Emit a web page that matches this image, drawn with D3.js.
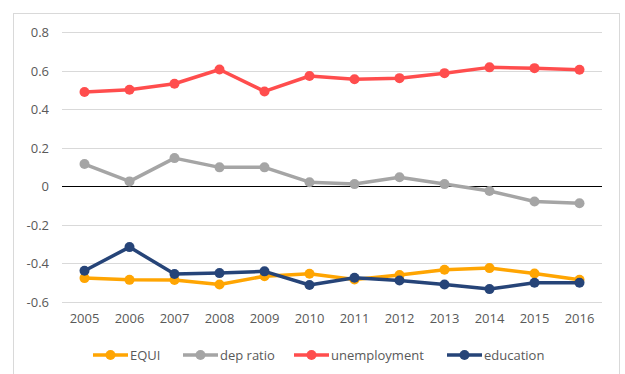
<!DOCTYPE html>
<html>
<head>
<meta charset="utf-8">
<script src="https://cdn.jsdelivr.net/npm/d3@7"></script>
<style>
  html, body { margin: 0; padding: 0; background: #fff; }
  svg { display: block; }
  text { font-family: "Open Sans", "Liberation Sans", sans-serif; fill: #595959; }
</style>
</head>
<body>
<svg id="chart" width="625" height="374"></svg>
<script>
const years = ["2005","2006","2007","2008","2009","2010","2011","2012","2013","2014","2015","2016"];
const equi = [-0.476,-0.485,-0.486,-0.509,-0.466,-0.453,-0.483,-0.460,-0.433,-0.424,-0.452,-0.485];
const depRatio = [0.116,0.026,0.147,0.099,0.099,0.022,0.012,0.048,0.012,-0.024,-0.078,-0.087];
const unemployment = [0.490,0.502,0.533,0.607,0.493,0.573,0.556,0.562,0.588,0.618,0.614,0.606];
const education = [-0.438,-0.315,-0.455,-0.450,-0.441,-0.512,-0.474,-0.488,-0.509,-0.533,-0.500,-0.500];
const yTicks = [0.8,0.6,0.4,0.2,0,-0.2,-0.4,-0.6];
const seriesNames = ["EQUI","dep ratio","unemployment","education"];
const seriesColors = ["#FFA502","#A5A5A5","#FF4D4D","#264478"];
const seriesValues = [equi, depRatio, unemployment, education];

const svg = d3.select("#chart");

// chart border
svg.append("rect").attr("x",13.5).attr("y",13.5).attr("width",606).attr("height",370)
  .attr("fill","none").attr("stroke","#d9d9d9").attr("stroke-width",1);

const x = d3.scaleBand().domain(years).range([62,602]);
const y = d3.scaleLinear().domain([-0.6,0.8]).range([302,32.3]);

// gridlines
svg.append("g").selectAll("line").data(yTicks.filter(d=>d!==0)).join("line")
  .attr("x1",62).attr("x2",602)
  .attr("y1",d=>Math.round(y(d))+0.5).attr("y2",d=>Math.round(y(d))+0.5)
  .attr("stroke","#d9d9d9").attr("stroke-width",1);

// y tick labels
const yAxis = d3.axisLeft(y).tickValues(yTicks).tickSize(0).tickPadding(0)
  .tickFormat(d => d === 0 ? "0" : d3.format(".1f")(d).replace("−","-"));
const gy = svg.append("g").attr("transform","translate(49,0)").call(yAxis);
gy.select(".domain").remove();
gy.selectAll("text").attr("font-size","13px").attr("fill","#595959")
  .style("font-family","'Open Sans', sans-serif");

// x tick labels
const xAxis = d3.axisBottom(x).tickSize(0).tickPadding(0);
const gx = svg.append("g").attr("transform","translate(0,314)").call(xAxis);
gx.select(".domain").remove();
gx.selectAll("text").attr("font-size","13px").attr("fill","#595959")
  .style("font-family","'Open Sans', sans-serif");

// zero line
svg.append("line").attr("x1",62).attr("x2",602)
  .attr("y1",Math.round(y(0))+0.5).attr("y2",Math.round(y(0))+0.5)
  .attr("stroke","#000").attr("stroke-width",1);

// series
const line = d3.line().x((d,i)=>x(years[i])+x.bandwidth()/2).y(d=>y(d));
seriesValues.forEach((vals, si) => {
  const g = svg.append("g");
  g.append("path").datum(vals).attr("d",line).attr("fill","none")
    .attr("stroke",seriesColors[si]).attr("stroke-width",3.5)
    .attr("stroke-linejoin","round").attr("stroke-linecap","round");
  g.selectAll("circle").data(vals).join("circle")
    .attr("cx",(d,i)=>x(years[i])+x.bandwidth()/2).attr("cy",d=>y(d))
    .attr("r",5).attr("fill",seriesColors[si]);
});

// legend
const legendX = [93, 183, 294, 447];
const lg = svg.append("g");
seriesNames.forEach((name, i) => {
  const lx = legendX[i];
  lg.append("line").attr("x1",lx).attr("x2",lx+35).attr("y1",355).attr("y2",355)
    .attr("stroke",seriesColors[i]).attr("stroke-width",3.5);
  lg.append("circle").attr("cx",lx+17.5).attr("cy",355).attr("r",5).attr("fill",seriesColors[i]);
  lg.append("text").attr("x",lx+37).attr("y",355).attr("dy","0.35em")
    .attr("font-size","13px").text(name);
});
</script>
</body>
</html>
